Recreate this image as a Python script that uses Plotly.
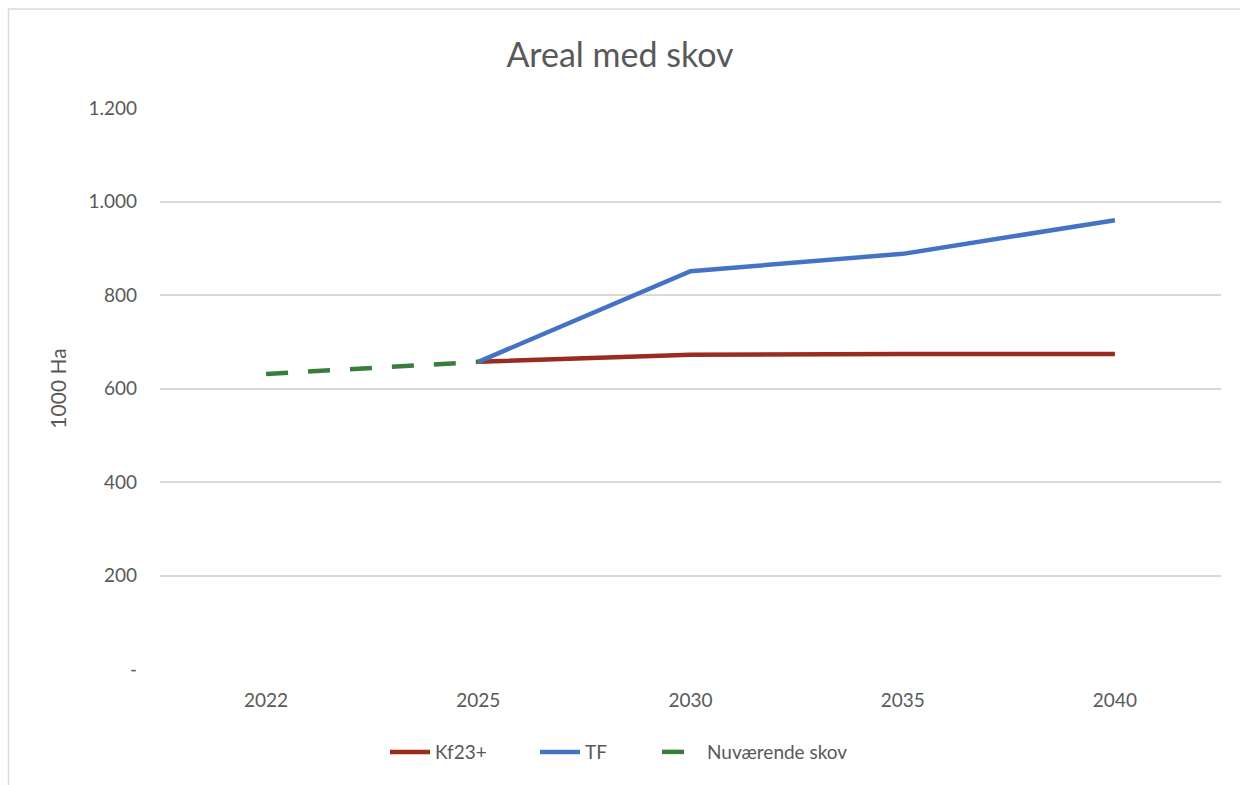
import plotly.graph_objects as go

years = ["2022", "2025", "2030", "2035", "2040"]
kf23 = [None, 657, 672, 674, 674]
tf = [None, 657, 851, 888, 960]
nuvaerende = [631, 657, None, None, None]

y_ticks = [0, 200, 400, 600, 800, 1000, 1200]
y_tick_text = ["-", "200", "400", "600", "800", "1.000", "1.200"]

FONT = "Lato"
GREY = "#595959"

fig = go.Figure()
fig.add_trace(go.Scatter(x=years, y=kf23, name="Kf23+", mode="lines", legend="legend",
                         line=dict(color="#9b2a1f", width=4.5)))
fig.add_trace(go.Scatter(x=years, y=tf, name="TF", mode="lines", legend="legend2",
                         line=dict(color="#4472c4", width=4.5)))
fig.add_trace(go.Scatter(x=years, y=nuvaerende, name="Nuværende skov", mode="lines",
                         legend="legend3",
                         line=dict(color="#3a7d3b", width=4.5, dash="22px,20px")))


def legend_at(px):
    # one legend box per series, placed along the bottom row
    return dict(orientation="h", x=(px - 160) / 1061, xanchor="left", y=-0.148,
                yanchor="middle", font=dict(size=19, color=GREY), itemwidth=40,
                bgcolor="rgba(0,0,0,0)")


fig.update_layout(
    width=1240, height=785,
    margin=dict(l=160, r=19, t=108, b=116),
    paper_bgcolor="white", plot_bgcolor="white",
    font=dict(family=FONT, color=GREY, size=19),
    title=dict(text="Areal med skov", x=0.5, xanchor="center", y=1 - 55 / 785,
               yanchor="middle", font=dict(size=34, color=GREY, family=FONT)),
    showlegend=True,
    legend=legend_at(385),
    legend2=legend_at(535),
    legend3=legend_at(657),
    xaxis=dict(type="category", range=[-0.5, 4.5], showgrid=False, zeroline=False,
               showline=False, ticks="", tickfont=dict(size=19, color=GREY),
               ticklabelstandoff=18),
    yaxis=dict(range=[0, 1200], tickvals=y_ticks, ticktext=y_tick_text,
               showgrid=True, gridcolor="#d9d9d9", gridwidth=1.5, zeroline=False,
               showline=False, ticks="", tickfont=dict(size=19, color=GREY),
               ticklabelstandoff=22,
               title=dict(text="1000 Ha", font=dict(size=21, color=GREY), standoff=16)),
    shapes=[dict(type="rect", xref="paper", yref="paper",
                 x0=(8.5 - 160) / 1061, x1=1.05, y0=-0.25, y1=(669 - 9) / 561,
                 line=dict(color="#d9d9d9", width=1.5), layer="below")],
)

fig.write_html("out.html")
